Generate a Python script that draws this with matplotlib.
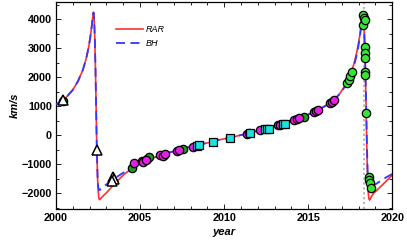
import matplotlib
matplotlib.use("Agg")
import matplotlib.pyplot as plt
from matplotlib.ticker import MultipleLocator, FuncFormatter

plt.rcParams['font.family'] = ['Liberation Sans', 'DejaVu Sans']

# ---- model curves ----
rar_year = [2000.0, 2000.5, 2001.0, 2001.3, 2001.6, 2001.8, 2001.95, 2002.05, 2002.13, 2002.19,
            2002.23, 2002.27, 2002.31, 2002.35, 2002.39, 2002.43, 2002.47, 2002.51, 2002.55, 2002.59,
            2002.64, 2002.72, 2002.85, 2003.0, 2003.3, 2003.6, 2004.0, 2004.5, 2005.0, 2005.5,
            2006.0, 2006.5, 2007.0, 2007.5, 2008.0, 2008.5, 2009.0, 2009.5, 2010.0, 2010.5,
            2011.0, 2011.5, 2012.0, 2012.5, 2013.0, 2013.5, 2014.0, 2014.5, 2015.0, 2015.5,
            2016.0, 2016.5, 2016.9, 2017.2, 2017.5, 2017.7, 2017.85, 2017.97, 2018.07, 2018.15,
            2018.21, 2018.25, 2018.29, 2018.33, 2018.37, 2018.41, 2018.45, 2018.49, 2018.53, 2018.57,
            2018.61, 2018.65, 2018.7, 2018.78, 2018.9, 2019.05, 2019.3, 2019.6, 2020.0]
rar_v = [1060, 1230, 1560, 1850, 2250, 2650, 3050, 3420, 3780, 4100,
         4230, 4000, 3300, 2200, 800, -550, -1450, -1950, -2180, -2230,
         -2200, -2150, -2070, -1990, -1800, -1610, -1380, -1150, -980, -850,
         -740, -640, -560, -480, -400, -330, -270, -190, -130, -70,
         0, 70, 150, 220, 300, 380, 480, 590, 710, 840,
         1000, 1200, 1450, 1720, 2080, 2420, 2760, 3100, 3450, 3800,
         4120, 4230, 4050, 3700, 2900, 1900, 700, -600, -1500, -2000,
         -2200, -2240, -2190, -2100, -2000, -1920, -1780, -1610, -1380]

bh_year = rar_year
bh_v = [1060, 1230, 1560, 1850, 2250, 2650, 3050, 3420, 3780, 4100,
        4230, 4000, 3300, 2200, 800, -550, -1400, -1780, -1880, -1900,
        -1870, -1820, -1760, -1700, -1560, -1450, -1300, -1130, -975, -850,
        -740, -640, -560, -480, -400, -330, -270, -190, -130, -70,
        0, 70, 150, 220, 300, 380, 480, 590, 710, 840,
        1000, 1200, 1430, 1690, 2020, 2350, 2680, 3020, 3380, 3750,
        4080, 4210, 4050, 3500, 2900, 2000, 900, -300, -1200, -1600,
        -1780, -1840, -1850, -1790, -1720, -1680, -1580, -1470, -1340]

# ---- observations ----
tri_year = [2000.43, 2002.42, 2003.38, 2003.45, 2003.35]
tri_v = [1200, -517, -1450, -1530, -1580]

dg_year = [2000.43, 2004.50, 2005.43, 2005.55, 2006.40, 2007.54, 2014.72]
dg_v = [1180, -1127, -828, -747, -700, -472, 632]

mag_year = [2004.66, 2005.10, 2005.20, 2005.36, 2006.20, 2006.35, 2006.50, 2007.18, 2007.30, 2008.17,
            2011.35, 2011.50, 2012.14, 2013.23, 2013.35, 2014.13, 2014.33, 2014.45, 2015.32, 2015.45,
            2015.61, 2016.31, 2016.40, 2016.51]
mag_v = [-977, -897, -930, -862, -690, -720, -650, -560, -520, -400,
         40, 70, 185, 345, 355, 517, 563, 590, 805, 830,
         862, 1115, 1150, 1207]

cy_year = [2008.40, 2008.53, 2009.36, 2010.36, 2011.55, 2012.44, 2012.54, 2012.64, 2013.50, 2013.63]
cy_v = [-370, -350, -240, -115, 57, 195, 195, 195, 370, 380]

lg_year = [2017.30, 2017.40, 2017.50, 2017.60, 2018.23, 2018.26, 2018.30, 2018.35, 2018.35, 2018.37,
           2018.37, 2018.37, 2018.38, 2018.45, 2018.59, 2018.62, 2018.65, 2018.73]
lg_v = [1805, 1900, 2050, 2180, 3793, 4138, 4050, 3965, 3045, 2838,
        2644, 2183, 2057, 748, -1437, -1560, -1640, -1817]

pericenter = 2018.33

fig = plt.figure(figsize=(4.07, 2.45), dpi=100)
ax = fig.add_axes([0.1376, 0.1469, 0.8263, 0.8449])

ax.axvline(pericenter, color='#b0b0b0', ls=(0, (1.2, 1.5)), lw=1.3, zorder=1)
ax.plot(rar_year, rar_v, color='#ff3030', lw=1.2, label='RAR', zorder=2)
ax.plot(bh_year, bh_v, color='#3535ff', lw=1.3, ls=(0, (5, 3)), label='BH', zorder=3)

ms = 6.0
ax.plot(dg_year, dg_v, 'o', ms=ms, mfc='#1e9a1e', mec='black', mew=0.9, zorder=4)
ax.plot(mag_year, mag_v, 'o', ms=ms, mfc='#e61ee6', mec='black', mew=0.9, zorder=4)
ax.plot(cy_year, cy_v, 's', ms=ms - 0.5, mfc='#20e0e0', mec='black', mew=0.9, zorder=5)
ax.plot(lg_year, lg_v, 'o', ms=ms, mfc='#33e633', mec='black', mew=0.9, zorder=5)
ax.plot(tri_year, tri_v, '^', ms=ms + 0.8, mfc='white', mec='black', mew=1.1, zorder=6)

ax.set_xlim(2000, 2020)
ax.set_ylim(-2550, 4590)
ax.xaxis.set_major_locator(MultipleLocator(5))
ax.xaxis.set_minor_locator(MultipleLocator(1))
ax.yaxis.set_major_locator(MultipleLocator(1000))
ax.yaxis.set_minor_locator(MultipleLocator(500))
ax.yaxis.set_major_formatter(FuncFormatter(lambda v, p: f"{int(v)}".replace('-', '\u2212')))
ax.tick_params(which='both', direction='in', top=True, right=True, width=0.6)
ax.tick_params(which='major', length=3.5, labelsize=7.8, pad=3)
ax.tick_params(which='minor', length=2)
for lab in ax.get_xticklabels() + ax.get_yticklabels():
    lab.set_fontweight('bold')
for s in ax.spines.values():
    s.set_linewidth(0.9)

ax.set_xlabel('year', fontsize=8, fontweight='bold', fontstyle='italic', labelpad=3)
ax.set_ylabel('km/s', fontsize=8, fontweight='bold', fontstyle='italic', labelpad=1)

leg = ax.legend(loc='upper left', bbox_to_anchor=(0.178, 0.89), frameon=False,
                fontsize=6.5, handlelength=3.0, handletextpad=0.3, labelspacing=0.55,
                borderpad=0, borderaxespad=0)
for t in leg.get_texts():
    t.set_fontstyle('italic')

fig.savefig('out.png', dpi=100)
